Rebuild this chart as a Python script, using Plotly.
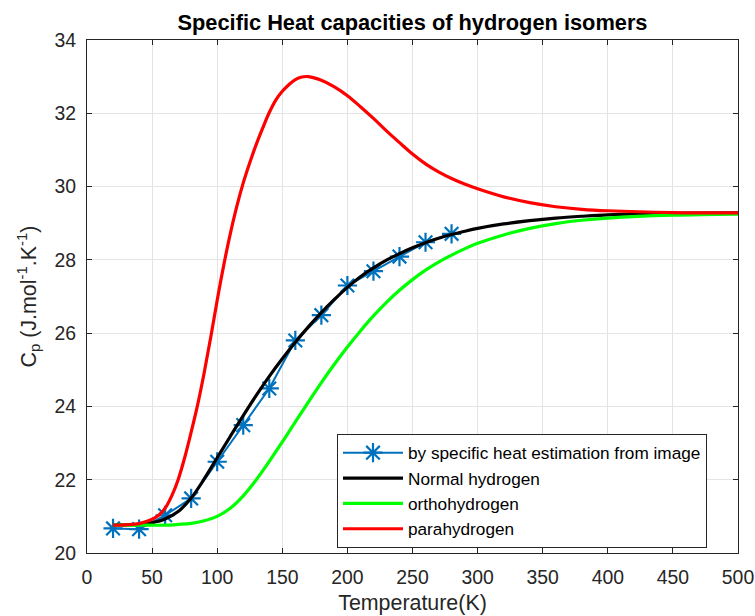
import plotly.graph_objects as go

# ---- data ----
T_est = [20, 40, 60, 80, 100, 120, 140, 160, 180, 200, 220, 240, 260, 280]
cp_est = [20.67, 20.65, 21.03, 21.49, 22.49, 23.49, 24.49, 25.8, 26.49, 27.3, 27.69, 28.09, 28.48, 28.71]

T_normal = [20, 30, 40, 50, 60, 70, 80, 90, 100, 110, 120, 130, 140, 150, 160, 170, 180,
            190, 200, 210, 220, 230, 240, 250, 260, 270, 280, 290, 300, 320, 340, 360,
            380, 400, 450, 500]
cp_normal = [20.76, 20.77, 20.78, 20.83, 20.93, 21.13, 21.5, 22.02, 22.6, 23.18, 23.75,
             24.3, 24.82, 25.3, 25.75, 26.17, 26.56, 26.92, 27.25, 27.54, 27.78, 27.99,
             28.17, 28.33, 28.47, 28.59, 28.69, 28.78, 28.86, 28.98, 29.07, 29.14, 29.19,
             29.23, 29.27, 29.28]

T_ortho = [20, 40, 60, 70, 80, 90, 100, 110, 120, 130, 140, 150, 160, 170, 180, 190, 200,
           210, 220, 230, 240, 250, 260, 270, 280, 290, 300, 320, 340, 360, 380, 400,
           450, 500]
cp_ortho = [20.76, 20.76, 20.76, 20.78, 20.81, 20.88, 21.0, 21.22, 21.56, 22.0, 22.5,
            23.03, 23.58, 24.12, 24.65, 25.15, 25.62, 26.06, 26.47, 26.84, 27.17, 27.46,
            27.72, 27.94, 28.13, 28.3, 28.45, 28.68, 28.86, 28.99, 29.08, 29.14, 29.22,
            29.25]

T_para = [20, 30, 40, 50, 55, 60, 65, 70, 75, 80, 85, 90, 95, 100, 105, 110, 115, 120,
          125, 130, 135, 140, 145, 150, 155, 160, 165, 170, 180, 190, 200, 210, 220, 230,
          240, 250, 260, 270, 280, 290, 300, 320, 340, 360, 380, 400, 450, 500]
cp_para = [20.76, 20.77, 20.8, 20.92, 21.03, 21.22, 21.55, 22.0, 22.6, 23.3, 24.05, 24.92,
           25.88, 26.9, 27.85, 28.7, 29.45, 30.1, 30.65, 31.15, 31.6, 32.02, 32.36, 32.6,
           32.78, 32.92, 32.99, 33.0, 32.9, 32.72, 32.48, 32.18, 31.86, 31.52, 31.2,
           30.89, 30.62, 30.4, 30.22, 30.07, 29.94, 29.72, 29.56, 29.45, 29.38, 29.34,
           29.29, 29.28]

x_ticks = [0, 50, 100, 150, 200, 250, 300, 350, 400, 450, 500]
y_ticks = [20, 22, 24, 26, 28, 30, 32, 34]

FONT = "Liberation Sans, Arial, Helvetica, sans-serif"
AX = "#262626"

fig = go.Figure()
fig.add_trace(go.Scatter(
    x=T_est, y=cp_est, mode="lines+markers",
    name="by specific heat estimation from image",
    line=dict(color="#0072BD", width=2),
    marker=dict(symbol="asterisk-open", size=16, color="#0072BD",
                line=dict(color="#0072BD", width=2.2)),
))
fig.add_trace(go.Scatter(
    x=T_normal, y=cp_normal, mode="lines", name="Normal hydrogen",
    line=dict(color="#000000", width=3.2, shape="spline", smoothing=1.0),
))
fig.add_trace(go.Scatter(
    x=T_ortho, y=cp_ortho, mode="lines", name="orthohydrogen",
    line=dict(color="#00FF00", width=3.2, shape="spline", smoothing=1.0),
))
fig.add_trace(go.Scatter(
    x=T_para, y=cp_para, mode="lines", name="parahydrogen",
    line=dict(color="#FF0000", width=3.2, shape="spline", smoothing=1.0),
))

axis_common = dict(
    showline=True, linecolor=AX, linewidth=1, mirror="ticks",
    ticks="inside", ticklen=5, tickwidth=1, tickcolor=AX,
    showgrid=True, gridcolor="#e4e4e4", gridwidth=1,
    zeroline=False, tickfont=dict(family=FONT, size=19.4, color=AX),
)

fig.update_layout(
    width=755, height=616,
    margin=dict(l=87, r=17, t=40, b=63, autoexpand=False),
    paper_bgcolor="white", plot_bgcolor="white",
    font=dict(family=FONT, color=AX),
    title=dict(text="<b>Specific Heat capacities of hydrogen isomers</b>",
               x=0.5, xref="paper", xanchor="center",
               y=1 - 22 / 616, yref="container", yanchor="middle",
               font=dict(family=FONT, size=21.8, color="#000000")),
    xaxis=dict(range=[0, 500], tickvals=x_ticks, ticktext=[str(v) for v in x_ticks],
               title=dict(text="Temperature(K)", font=dict(family=FONT, size=21.4, color=AX),
                          standoff=7),
               ticklabelstandoff=7,
               **axis_common),
    yaxis=dict(range=[20, 34], tickvals=y_ticks, ticktext=[str(v) for v in y_ticks],
               title=dict(text="C<sub>p</sub> (J.mol<sup>-1</sup>.K<sup>-1</sup>)",
                          font=dict(family=FONT, size=21.4, color=AX), standoff=12),
               ticklabelstandoff=6,
               **axis_common),
    legend=dict(x=(337 - 87) / 651, y=(553 - 434) / 513, xanchor="left", yanchor="top",
                bgcolor="white", bordercolor=AX, borderwidth=1,
                font=dict(family=FONT, size=17.2, color="#000000"),
                itemwidth=60, tracegroupgap=0),
    showlegend=True,
)

fig.write_html("out.html")
